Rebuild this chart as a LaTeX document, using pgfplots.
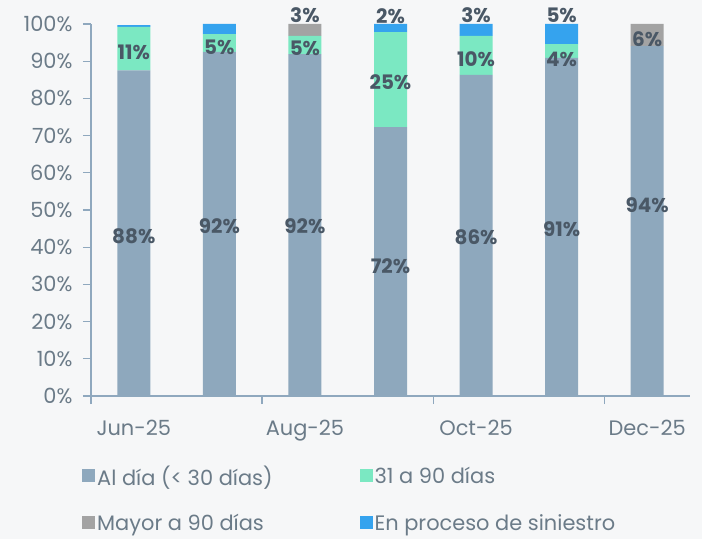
\documentclass[border=0pt]{standalone}
\usepackage{fontspec}
\setmainfont{Poppins}
\usepackage{pgfplots}
\usepackage{pgfplotstable}
\pgfplotsset{compat=1.18}
\definecolor{bgc}{HTML}{F6F7F8}
\definecolor{axc}{HTML}{8FA8BE}
\definecolor{tickc}{HTML}{6B7B88}
\definecolor{labc}{HTML}{4A5866}
\definecolor{c1}{HTML}{8EA8BD}
\definecolor{c2}{HTML}{7BE8C2}
\definecolor{c3}{HTML}{A3A3A3}
\definecolor{c4}{HTML}{35A3EE}
\pgfplotstableread{
x aldia v31 mayor sin
0 87.5 11.7 0   0.5
1 92.5 4.8  0   2.7
2 91.9 4.9  3.2 0
3 72.3 25.5 0   2.2
4 86.3 10.5 0   3.2
5 90.9 3.7  0   5.4
6 94.1 0    5.9 0
}\data
\pgfplotstableread{
x y lab
0 43.0 88\%
1 45.7 92\%
2 45.7 92\%
3 35.0 72\%
4 42.7 86\%
5 44.9 91\%
6 51.3 94\%
0 92.5 11\%
1 93.8 5\%
2 93.5 5\%
3 84.4 25\%
4 90.6 10\%
5 90.6 4\%
2 102.4 3\%
6 96.0 6\%
3 102.0 2\%
4 102.4 3\%
5 102.4 5\%
}\labs
\begin{document}
\begin{tikzpicture}
\fill[bgc] (-91bp,-143bp) rectangle (611bp,396bp);
\begin{axis}[
  at={(0,0)}, anchor=south west,
  scale only axis, width=599bp, height=372bp,
  xmin=-0.5, xmax=6.5, ymin=0, ymax=100,
  ybar stacked, bar width=33bp,
  axis lines=left,
  axis line style={-, draw=axc, line width=1.3bp},
  tick align=outside,
  major tick length=8bp,
  tick style={draw=axc, line width=1.3bp},
  ytick={0,10,...,100},
  yticklabels={0\%,10\%,20\%,30\%,40\%,50\%,60\%,70\%,80\%,90\%,100\%},
  yticklabel style={xshift=-7bp},
  xtick={-0.5,1.5,3.5,5.5},
  xticklabels={},
  extra x ticks={0,2,4,6},
  extra x tick labels={Jun-25,Aug-25,Oct-25,Dec-25},
  extra x tick style={major tick length=0pt, xticklabel style={yshift=-21bp}},
  tick label style={font=\fontsize{21}{24}\selectfont, text=tickc},
  legend columns=2,
  legend cell align=left,
  legend style={draw=none, fill=none, at={(-0.02,-0.1766)}, anchor=north west,
    font=\fontsize{21}{24}\selectfont, text=tickc, row sep=23bp,
    /tikz/every even column/.append style={column sep=85bp}},
  legend image code/.code={\fill[#1] (-4bp,-6bp) rectangle (9bp,7bp);},
]
\addplot[fill=c1, draw=none] table[x=x, y=aldia] {\data};
\addplot[fill=c2, draw=none] table[x=x, y=v31] {\data};
\addplot[fill=c3, draw=none] table[x=x, y=mayor] {\data};
\addplot[fill=c4, draw=none] table[x=x, y=sin] {\data};
\legend{Al día (< 30 días),31 a 90 días,Mayor a 90 días,En proceso de siniestro}
\end{axis}
\begin{axis}[
  at={(0,0)}, anchor=south west,
  scale only axis, width=599bp, height=372bp,
  xmin=-0.5, xmax=6.5, ymin=0, ymax=100,
  hide axis, clip=false,
]
\addplot[draw=none, mark=none, nodes near coords, point meta=explicit symbolic,
  every node near coord/.style={anchor=center, font=\bfseries\fontsize{20}{22}\selectfont, text=labc}]
  table[x=x, y=y, meta=lab] {\labs};
\end{axis}
\end{tikzpicture}
\end{document}
